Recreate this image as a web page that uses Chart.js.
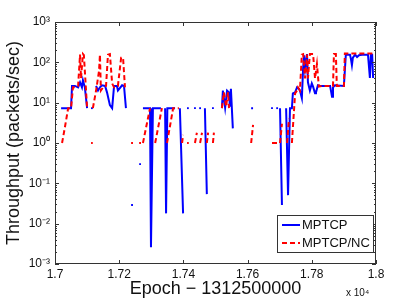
<!DOCTYPE html>
<html>
<head>
<meta charset="utf-8">
<script src="https://cdn.jsdelivr.net/npm/chart.js@4.4.0/dist/chart.umd.min.js"></script>
<style>
  html, body { margin: 0; padding: 0; background: #fff; }
  #wrap { width: 415px; height: 300px; }
</style>
</head>
<body>
<div id="wrap"><canvas id="chart"></canvas></div>
<script>
// epoch (minus 1312500000) and throughput, null = gap
var mptcpX = [17019, 17050, 17053, 17062, 17072, 17078, 17084, 17087, 17093, 17100, 17105,
  17115, 17120,
  17128, 17134, 17140, 17146, 17156, 17162, 17171, 17178, 17184, 17193, 17196, 17202, 17209, 17215, 17221, 17230,
  17240, 17250,
  17265, 17270,
  17274, 17296, 17299, 17305, 17321, 17330, 17335,
  17343, 17346, 17350, 17374, 17380,
  17389, 17399, 17405,
  17414, 17420,
  17436, 17445,
  17452, 17460,
  17467, 17473, 17480,
  17492, 17500,
  17520, 17523, 17530, 17536, 17542, 17545, 17548, 17554, 17580,
  17611, 17617, 17650,
  17676, 17685,
  17692, 17697,
  17701, 17707, 17712,
  17720, 17726, 17732, 17738, 17741, 17748, 17754, 17760, 17763, 17769, 17773, 17776, 17779, 17785, 17788,
  17794, 17800, 17804, 17810, 17813, 17819, 17825, 17857, 17863, 17866, 17872, 17900, 17906, 17919, 17922,
  17925, 17928, 17935, 17941, 17947, 17956, 17975, 17981, 17984, 17988, 17991];
var mptcpY = [7.3, 7.3, 26, 26, 24, 32, 24, 36, 24, 7.3, null,
  7.3, null,
  26, 20, 24, 27, 26, 18, 8.7, 7.3, 26, 26, 20, 23, 27, 26, 7.3, null,
  0.029, null,
  0.3, null,
  7.3, 7.3, 0.0026, 7.3, 7.3, 7.3, null,
  7.3, 0.018, 7.3, 7.3, null,
  7.3, 0.018, null,
  7.3, null,
  7.3, null,
  7.3, null,
  7.3, 0.054, null,
  7.3, null,
  7.3, 20, 7.5, 20, 18, 8, 22, 2.3, null,
  7.3, 7.3, null,
  7.3, null,
  7.3, null,
  7.3, 0.029, null,
  7.3, 0.051, 7.3, 7.3, 17, 18, 24, 22, 20, 13, 72, 150, 70, 160, 32,
  20, 30, 25, 17, 18, 27, 26, 26, 14, 24, 27, 26, 155, 155, 120,
  85, 130, 155, 135, 150, 155, 155, 41, 155, 155, 41];

var ncX = [17022, 17031, 17041, 17050, 17056, 17065, 17072, 17078, 17081, 17087, 17090, 17100, 17108,
  17115, 17117,
  17118, 17128, 17137, 17140, 17143, 17150, 17159, 17165, 17171, 17178, 17184, 17196, 17206, 17212, 17218, 17230,
  17240, 17250,
  17265, 17270,
  17274, 17296, 17300,
  17312, 17333, 17340,
  17349, 17368, 17386, 17390,
  17396, 17399, 17405,
  17414, 17420,
  17436, 17442, 17447,
  17452, 17458, 17463,
  17473, 17477, 17485,
  17492, 17495, 17505,
  17520, 17526, 17533, 17539, 17542, 17580,
  17611, 17617, 17650,
  17676, 17695, 17698,
  17701, 17707, 17712,
  17723, 17729, 17733,
  17738, 17745, 17748, 17754, 17757, 17763, 17769, 17773, 17779, 17785, 17788, 17794, 17804, 17810,
  17816, 17822, 17832, 17866, 17869, 17875, 17878, 17900, 17903, 17997];
var ncY = [1, 2.5, 7.3, 7.3, 24, 24, 26, 155, 40, 160, 150, 7.3, null,
  1, null,
  7.3, 20, 60, 155, 20, 24, 26, 155, 160, 30, 24, 26, 130, 130, 24, null,
  1, null,
  1, null,
  1, 7.3, null,
  1, 7.3, null,
  1, 7.3, 7.3, null,
  1, 1.6, null,
  1, null,
  1, 1.8, null,
  1, 1.8, null,
  1, 1.8, null,
  1, 1.8, null,
  7.3, 18, 8, 18, 7.3, null,
  1, 2.8, null,
  1, 1, null,
  1, 3, null,
  1, 4, null,
  1, 7.3, 17, 20, 24, 20, 155, 160, 40, 155, 40, 160, 160, 40,
  90, 25, 26, 26, 160, 160, 26, 26, 165, 165];

var xTicks = [17000, 17200, 17400, 17600, 17800, 18000];
var yTicks = [0.001, 0.01, 0.1, 1, 10, 100, 1000];
var yTickLabels = ['10\u207B\u00B3', '10\u207B\u00B2', '10\u207B\u00B9', '10\u2070', '10\u00B9', '10\u00B2', '10\u00B3'];

function toPoints(xs, ys) {
  return xs.map(function (x, i) { return { x: x, y: ys[i] }; });
}

// isolated samples only show as a dot
function lonePoint(ctx) {
  var d = ctx.dataset.data, i = ctx.dataIndex;
  if (!d[i] || d[i].y === null) return 0;
  var p = d[i - 1], n = d[i + 1];
  var linked = (p && p.y !== null) || (n && n.y !== null);
  return linked ? 0 : 1.3;
}

var axisColor = '#333';

var boxPlugin = {
  id: 'boxPlugin',
  afterDraw: function (chart) {
    var ctx = chart.ctx, a = chart.chartArea;
    var xs = chart.scales.x, ys = chart.scales.y;
    ctx.save();
    ctx.strokeStyle = axisColor;
    ctx.lineWidth = 1;
    ctx.strokeRect(a.left + 0.5, a.top + 0.5, a.right - a.left - 1, a.bottom - a.top - 1);
    ctx.beginPath();
    xTicks.forEach(function (v) {
      var px = Math.round(xs.getPixelForValue(v)) + 0.5;
      ctx.moveTo(px, a.bottom); ctx.lineTo(px, a.bottom - 4);
      ctx.moveTo(px, a.top); ctx.lineTo(px, a.top + 4);
    });
    for (var e = -3; e < 3; e++) {
      for (var m = 1; m <= 10; m++) {
        var v = m * Math.pow(10, e);
        var py = Math.round(ys.getPixelForValue(v)) + 0.5;
        var len = (m === 1 || m === 10) ? 4 : 2;
        ctx.moveTo(a.left, py); ctx.lineTo(a.left + len, py);
        ctx.moveTo(a.right, py); ctx.lineTo(a.right - len, py);
      }
    }
    ctx.stroke();

    // legend box, lower right
    var bx = a.right - 99, by = a.bottom - 49, bw = 96, bh = 37;
    ctx.fillStyle = '#fff';
    ctx.fillRect(bx, by, bw, bh);
    ctx.strokeRect(bx + 0.5, by + 0.5, bw, bh);
    ctx.font = '13px "Liberation Sans", Arial, sans-serif';
    ctx.textBaseline = 'middle';
    ctx.fillStyle = '#111';
    var items = [chart.data.datasets[1], chart.data.datasets[0]];
    items.forEach(function (ds, k) {
      var ly = by + 10 + k * 18;
      ctx.beginPath();
      ctx.strokeStyle = ds.borderColor;
      ctx.lineWidth = 2;
      ctx.setLineDash(ds.borderDash || []);
      ctx.moveTo(bx + 5, ly); ctx.lineTo(bx + 23, ly);
      ctx.stroke();
      ctx.setLineDash([]);
      ctx.fillText(ds.label, bx + 25, ly);
    });
    ctx.restore();
  }
};

var chart = new Chart(document.getElementById('chart').getContext('2d'), {
  type: 'line',
  data: {
    datasets: [{
      label: 'MPTCP/NC',
      data: toPoints(ncX, ncY),
      borderColor: '#ff0000',
      backgroundColor: '#ff0000',
      borderWidth: 2,
      borderDash: [5, 3],
      pointRadius: lonePoint,
      pointStyle: 'rect',
      pointBorderWidth: 0,
      tension: 0,
      spanGaps: false
    }, {
      label: 'MPTCP',
      data: toPoints(mptcpX, mptcpY),
      borderColor: '#0000ff',
      backgroundColor: '#0000ff',
      borderWidth: 2,
      pointRadius: lonePoint,
      pointStyle: 'rect',
      pointBorderWidth: 0,
      tension: 0,
      spanGaps: false
    }]
  },
  options: {
    responsive: true,
    maintainAspectRatio: false,
    animation: false,
    layout: { padding: { top: 22, right: 39, left: 0, bottom: 0 } },
    plugins: { legend: { display: false }, tooltip: { enabled: false } },
    scales: {
      x: {
        type: 'linear',
        min: 17000,
        max: 18000,
        afterBuildTicks: function (s) { s.ticks = xTicks.map(function (v) { return { value: v }; }); },
        afterFit: function (s) { s.height = 36; },
        grid: { display: false, drawTicks: false },
        border: { display: false },
        ticks: {
          padding: 3,
          color: '#111',
          font: { family: '"Liberation Sans", Arial, sans-serif', size: 12 },
          callback: function (v) { return String(parseFloat((v / 10000).toFixed(2))); }
        },
        title: {
          display: true,
          text: 'Epoch \u2212 1312500000',
          color: '#111',
          padding: { top: 0, bottom: 0 },
          font: { family: '"Liberation Sans", Arial, sans-serif', size: 18 }
        }
      },
      y: {
        type: 'logarithmic',
        min: 0.001,
        max: 1000,
        afterBuildTicks: function (s) { s.ticks = yTicks.map(function (v) { return { value: v }; }); },
        afterFit: function (s) { s.width = 55; },
        grid: { display: false, drawTicks: false },
        border: { display: false },
        ticks: {
          padding: 5,
          color: '#111',
          font: { family: '"Liberation Sans", Arial, sans-serif', size: 12 },
          callback: function (v) { return yTickLabels[yTicks.indexOf(v)] || ''; }
        },
        title: {
          display: true,
          text: 'Throughput (packets/sec)',
          color: '#111',
          padding: { top: 3, bottom: 0 },
          font: { family: '"Liberation Sans", Arial, sans-serif', size: 18 }
        }
      }
    }
  },
  plugins: [boxPlugin]
});

// small "x 10^4" exponent note under the right end of the axis
var expPlugin = {
  id: 'expNote',
  afterDraw: function (c) {
    var ctx = c.ctx, a = c.chartArea;
    ctx.save();
    ctx.fillStyle = '#111';
    ctx.font = '10px "Liberation Sans", Arial, sans-serif';
    ctx.textBaseline = 'alphabetic';
    ctx.fillText('x 10\u2074', a.right - 30, 296);
    ctx.restore();
  }
};
Chart.register(expPlugin);
chart.update();
</script>
</body>
</html>
